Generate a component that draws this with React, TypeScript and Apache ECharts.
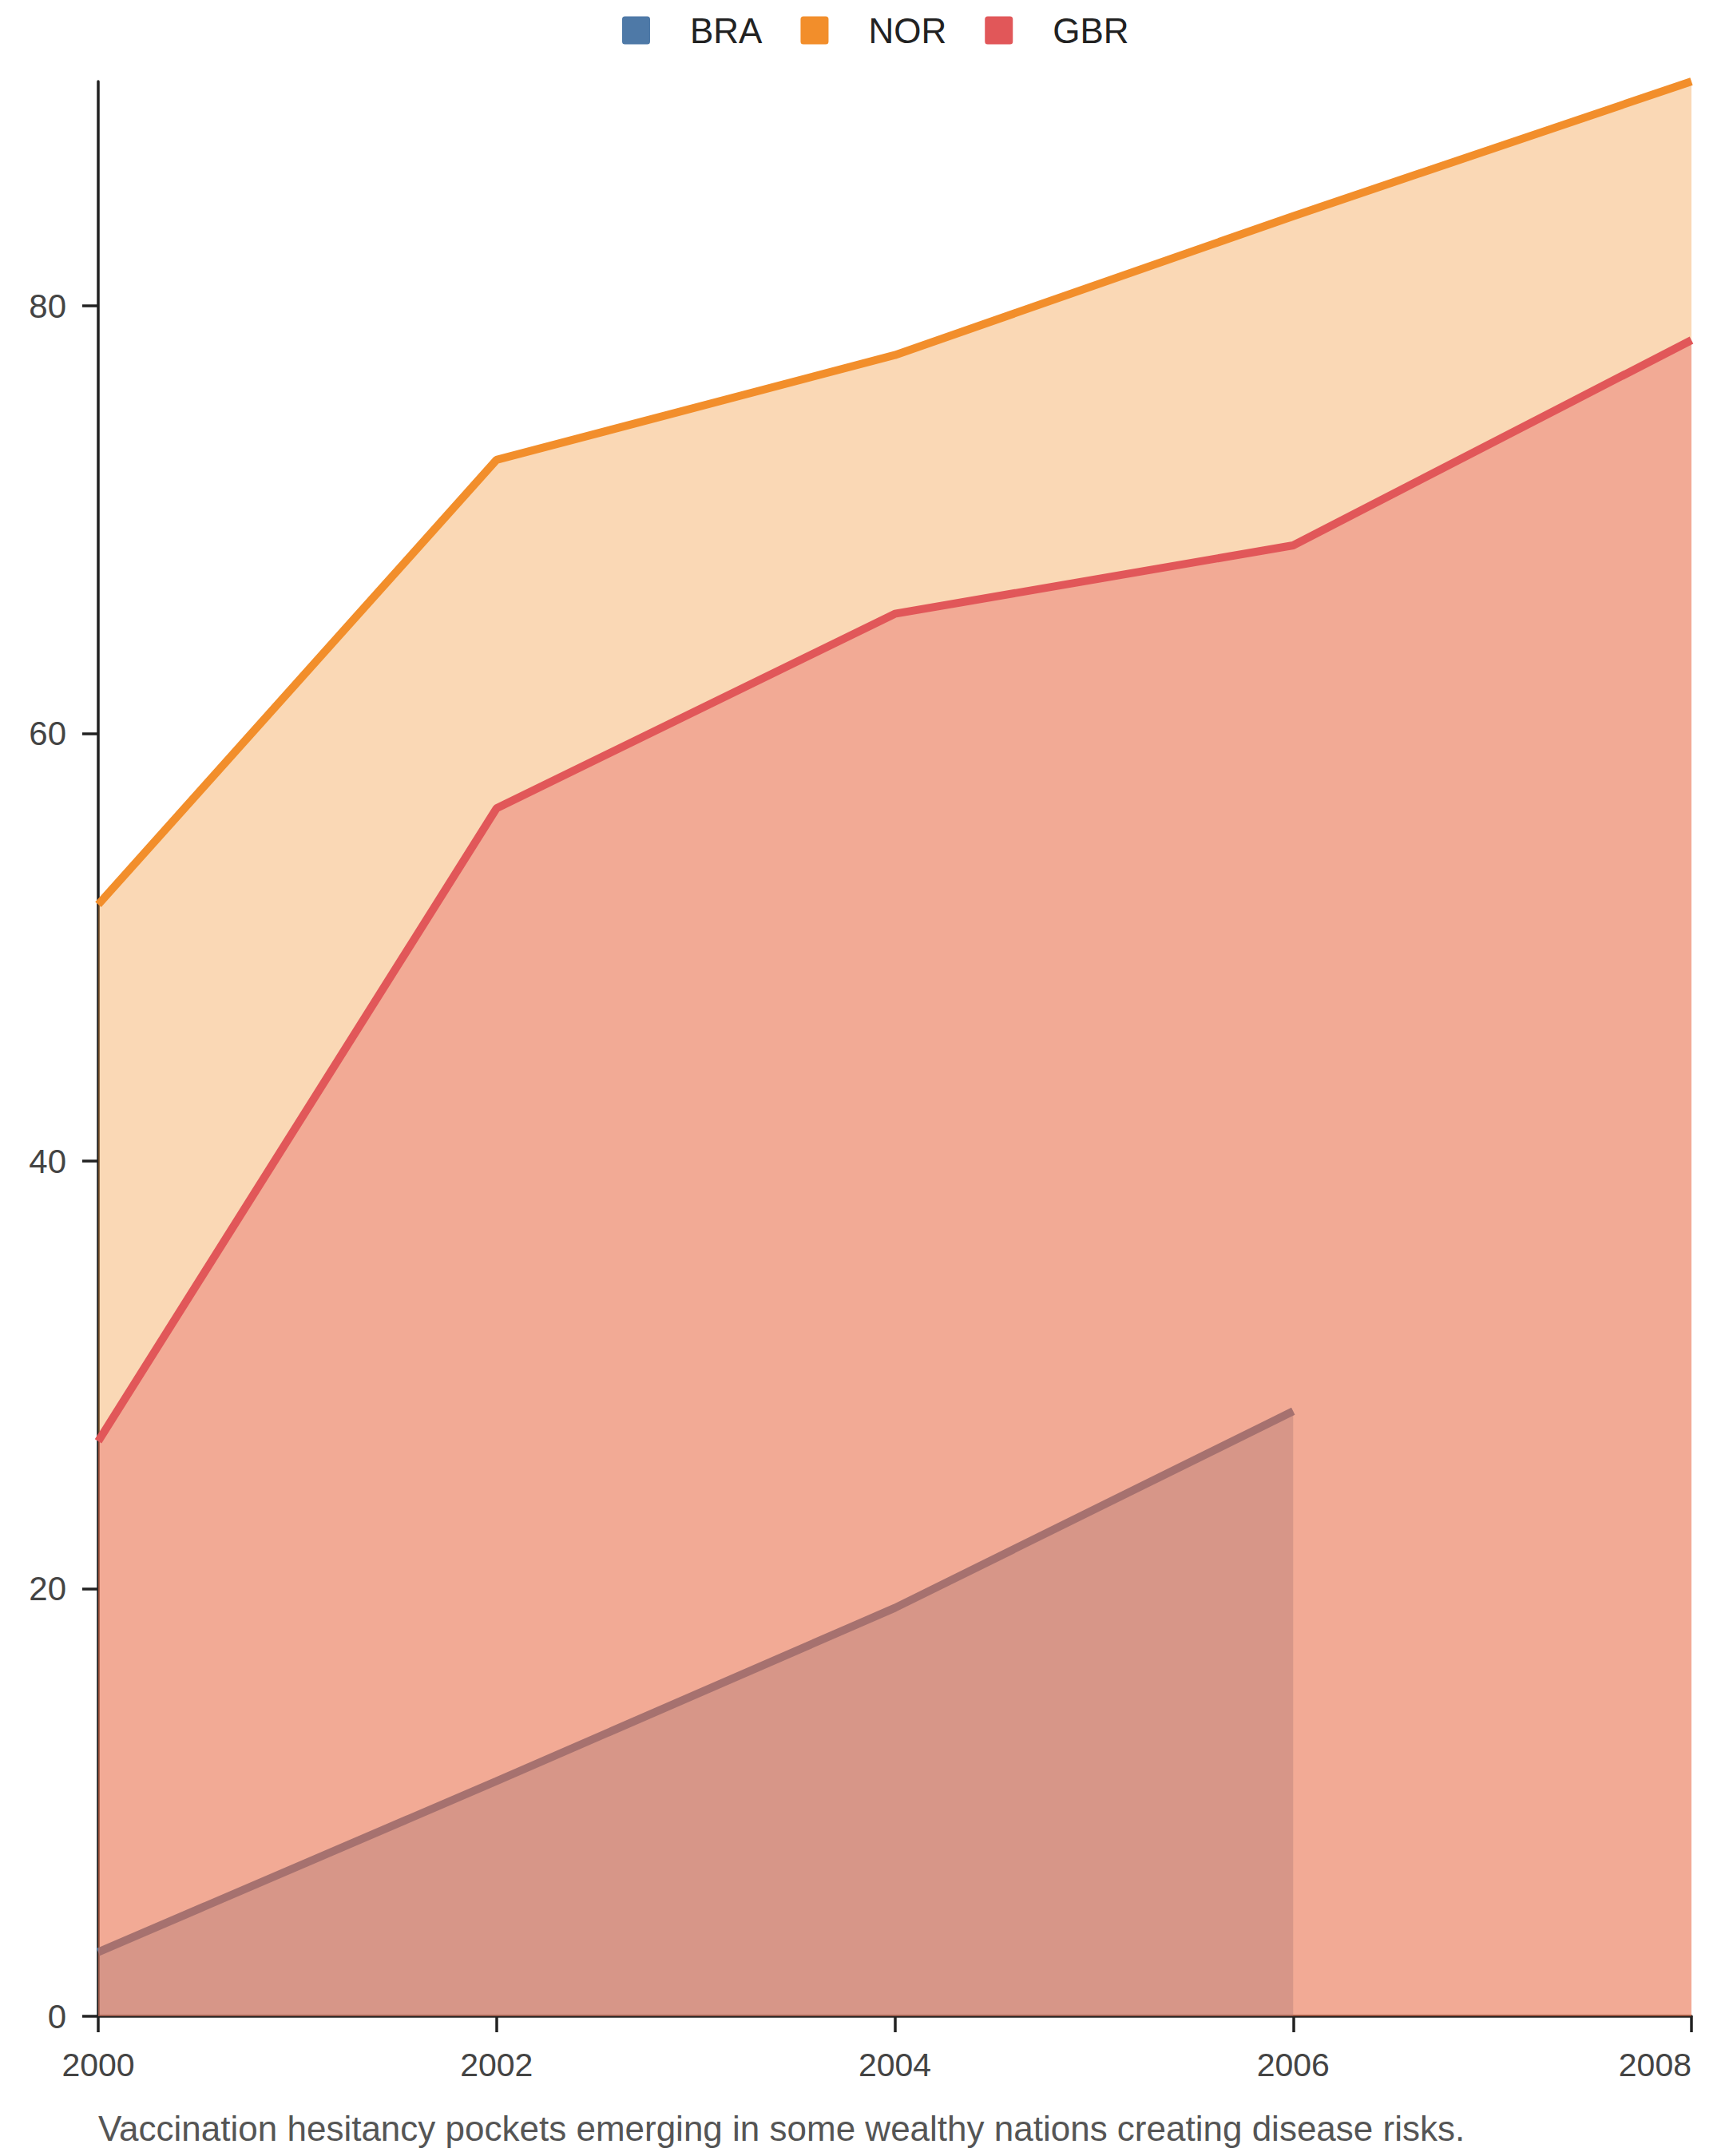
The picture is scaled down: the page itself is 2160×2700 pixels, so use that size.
import React, { useEffect, useRef } from "react";
import * as echarts from "echarts";

const years = [2000, 2002, 2004, 2006, 2008];
const braValues = [3.0, 11.0, 19.1, 28.3];
const norValues = [52.0, 72.8, 77.7, 84.2, 90.5];
const gbrValues = [26.9, 56.5, 65.6, 68.8, 78.4];
const seriesNames = ["BRA", "NOR", "GBR"];
const seriesColors = ["#4e79a7", "#f28e2b", "#e15759"];
const caption = "Vaccination hesitancy pockets emerging in some wealthy nations creating disease risks.";

const FONT = "'Liberation Sans', Arial, sans-serif";
const ICON = "path://M2,0H18A2,2 0 0 1 20,2V18A2,2 0 0 1 18,20H2A2,2 0 0 1 0,18V2A2,2 0 0 1 2,0Z";

export default function App() {
  const ref = useRef<HTMLDivElement>(null);
  useEffect(() => {
    document.body.style.margin = "0";
    if (!ref.current) return;
    const chart = echarts.init(ref.current, undefined, { renderer: "svg" });
    const all = [braValues, norValues, gbrValues];
    const series = all.map((vals, i) => ({
      name: seriesNames[i],
      type: "line",
      data: vals.map((v, j) => [years[j], v]),
      showSymbol: false,
      symbol: "none",
      lineStyle: { color: seriesColors[i], width: 10 },
      itemStyle: { color: seriesColors[i] },
      areaStyle: { color: seriesColors[i], opacity: 0.35, origin: "start" },
      z: 2 + i,
    }));
    chart.setOption({
      animation: false,
      backgroundColor: "#ffffff",
      textStyle: { fontFamily: FONT },
      legend: {
        top: 11,
        left: 774,
        icon: ICON,
        itemWidth: 35,
        itemHeight: 35,
        itemGap: 48,
        data: seriesNames.map((n, i) => ({ name: n, itemStyle: { color: seriesColors[i] } })),
        textStyle: { fontSize: 44, color: "#222222", fontFamily: FONT, padding: [0, 0, 0, 45] },
      },
      grid: { left: 123, right: 42, top: 102, bottom: 175, containLabel: false },
      xAxis: {
        type: "value",
        min: 2000,
        max: 2008,
        interval: 2,
        splitLine: { show: false },
        axisLine: { show: true, onZero: false, lineStyle: { color: "#222222", width: 3.5 } },
        axisTick: { show: true, length: 20, lineStyle: { color: "#222222", width: 3.5 } },
        axisLabel: {
          fontSize: 41,
          color: "#444444",
          fontFamily: FONT,
          margin: 40,
          alignMaxLabel: "right",
          formatter: (v: number) => String(v),
        },
      },
      yAxis: {
        type: "value",
        min: 0,
        max: 90.5,
        interval: 20,
        splitLine: { show: false },
        axisLine: { show: true, lineStyle: { color: "#222222", width: 3.5 } },
        axisTick: { show: true, length: 20, lineStyle: { color: "#222222", width: 3.5 } },
        axisLabel: {
          fontSize: 42,
          color: "#444444",
          fontFamily: FONT,
          margin: 40,
          showMaxLabel: false,
        },
      },
      graphic: [
        {
          type: "text",
          left: 123,
          top: 2643,
          style: { text: caption, fontSize: 44, fill: "#555555", fontFamily: FONT },
        },
      ],
      series,
    });
    return () => chart.dispose();
  }, []);
  return <div ref={ref} style={{ width: 2160, height: 2700 }} />;
}
